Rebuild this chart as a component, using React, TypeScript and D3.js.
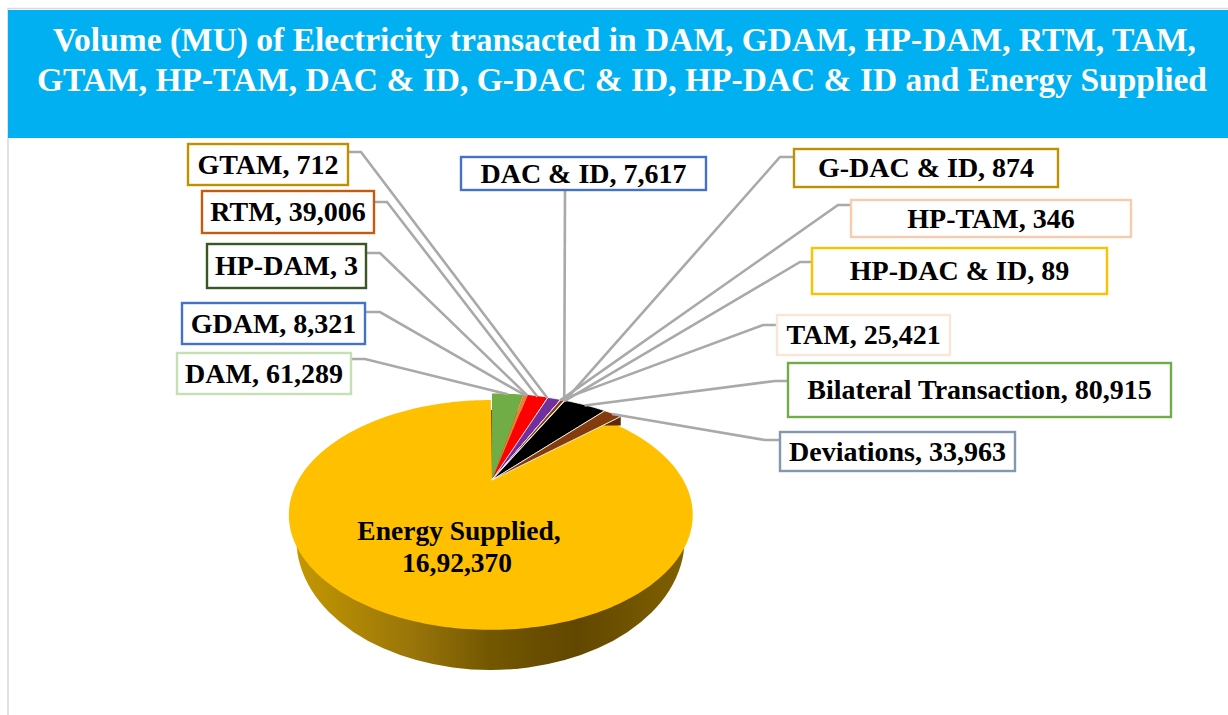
import React from "react";
import * as d3 from "d3";

const categories = ["DAM", "GDAM", "HP-DAM", "RTM", "GTAM", "TAM", "HP-TAM", "DAC & ID", "G-DAC & ID", "HP-DAC & ID", "Bilateral Transaction", "Deviations", "Energy Supplied"];
const values = [61289, 8321, 3, 39006, 712, 25421, 346, 7617, 874, 89, 80915, 33963, 1692370];
const valueLabels = ["61,289", "8,321", "3", "39,006", "712", "25,421", "346", "7,617", "874", "89", "80,915", "33,963", "16,92,370"];
const sliceColors = ["#70ad47", "#ed7d31", "#4472c4", "#ff0000", "#a5a5a5", "#7030a0", "#f4b183", "#843c0c", "#bf9000", "#ffc000", "#000000", "#843c0c", "#ffc000"];
const borderColors = ["#c5e0b4", "#4472c4", "#385723", "#c55a11", "#bf9000", "#fbe5d6", "#f8cbad", "#4472c4", "#bf9000", "#ffc000", "#70ad47", "#8497b0", "none"];
const titleLines = [
  "Volume (MU) of Electricity transacted in DAM, GDAM, HP-DAM, RTM, TAM,",
  "GTAM, HP-TAM, DAC & ID, G-DAC & ID, HP-DAC & ID and Energy Supplied",
];

// label box layout [x0, y0, x1, y1], same order as categories
const boxes = [
  [177, 353, 351, 394], [182, 303, 365, 344], [207, 244, 366, 288], [202, 191, 374, 233],
  [188, 144, 348, 185], [777, 315, 950, 355], [851, 200, 1131, 237], [461, 157, 706, 190],
  [794, 149, 1058, 187], [812, 248, 1107, 294], [788, 363, 1171, 417], [780, 432, 1015, 471],
];
// leader line start and elbow
const leaderStarts = [
  [351, 359, 365], [365, 312, 380], [366, 253, 380], [374, 202, 387], [348, 152, 361], [777, 325, 763],
  [851, 205, 838], [565, 190, 565], [794, 157, 780], [812, 262, 800], [788, 381, 775], [780, 440, 765],
];

const centerX = 490.8, apexX = 492, apexY = 480;
const persp = 0.304;
const rx = d3.scaleLinear().domain([0, 1]).range([0, 192.4]);
const ry = d3.scaleLinear().domain([0, 1]).range([0, 104.3]);

function project(angle: number, r: number, cx = apexX): [number, number] {
  const x = Math.sin(angle) * r;
  const v = -Math.cos(angle) * r;
  const s = 1 / (1 - persp * v);
  return [cx + rx(x) * s, apexY + ry(v) * s];
}

const pieLayout = d3.pie<number>().sort(null).startAngle(0).endAngle(2 * Math.PI);
const arcs = pieLayout(values);
const line = d3.line();

function wedge(a0: number, a1: number, r: number, cx = apexX) {
  const n = Math.max(2, Math.ceil((a1 - a0) / 0.02));
  const pts: [number, number][] = [[apexX, apexY]];
  for (let i = 0; i <= n; i++) pts.push(project(a0 + ((a1 - a0) * i) / n, r, cx));
  return line(pts) + "Z";
}

const small = 1.11;

export default function App() {
  const energy = arcs[12];
  const dev = arcs[11];
  const devEdge1 = project(dev.endAngle, small);
  return (
    <svg width={1228} height={715} style={{ position: "absolute", left: 0, top: 0, fontFamily: "'Liberation Serif', serif", fontWeight: 700 }}>
      <defs>
        <linearGradient id="side" x1="0" x2="1" y1="0" y2="0">
          <stop offset="0" stopColor="#c49700" />
          <stop offset="0.3" stopColor="#99750a" />
          <stop offset="0.5" stopColor="#735700" />
          <stop offset="0.72" stopColor="#614700" />
          <stop offset="1" stopColor="#7f6000" />
        </linearGradient>
      </defs>
      <rect x={0} y={0} width={1228} height={715} fill="#fff" />
      <path d="M8,715V8.5H1228" fill="none" stroke="#d9d9d9" strokeWidth={1.5} />
      <rect x={8} y={10} width={1220} height={128} fill="#00b0f0" />
      {titleLines.map((t, i) => (
        <text key={i} x={i === 0 ? 53 : 37} y={i === 0 ? 51 : 91} fontSize={33} fill="#fff" textLength={i === 0 ? 1143 : 1170} lengthAdjust="spacingAndGlyphs">{t}</text>
      ))}

      <ellipse cx={490.5} cy={540} rx={194} ry={130} fill="url(#side)" />
      <path d={wedge(energy.startAngle, energy.endAngle, 1, centerX)} fill="#ffc000" />
      <path d={line([devEdge1, [devEdge1[0], devEdge1[1] + 9], [devEdge1[0] - 17, devEdge1[1] + 9]])! + "Z"} fill="#5c2a08" />
      {arcs.slice(0, 12).map((a, i) => (
        <path key={i} d={wedge(a.startAngle, a.endAngle, small)} fill={sliceColors[i]} stroke={i < 5 ? "none" : "#fff"} strokeWidth={i === 7 || i === 9 ? 0.6 : 0.8} />
      ))}

      {arcs.slice(0, 12).map((a, i) => {
        const ang = i >= 5 && i <= 9 ? a.endAngle : (a.startAngle + a.endAngle) / 2;
        const end = project(ang, small - 0.01);
        const s = leaderStarts[i];
        return <path key={i} d={line([[s[0], s[1]], [s[2], s[1]], end])!} fill="none" stroke="#a9a9a9" strokeWidth={2.6} />;
      })}

      {boxes.map((b, i) => (
        <g key={i}>
          <rect x={b[0]} y={b[1]} width={b[2] - b[0]} height={b[3] - b[1]} fill="#fff" stroke={borderColors[i]} strokeWidth={2.4} />
          <text x={(b[0] + b[2]) / 2} y={(b[1] + b[3]) / 2 + 9} textAnchor="middle" fontSize={28} fill="#000">
            {categories[i]}, {valueLabels[i]}
          </text>
        </g>
      ))}

      <text x={459} y={540} textAnchor="middle" fontSize={27.5} fill="#000">{categories[12]},</text>
      <text x={457} y={572} textAnchor="middle" fontSize={27.5} fill="#000">{valueLabels[12]}</text>
    </svg>
  );
}
